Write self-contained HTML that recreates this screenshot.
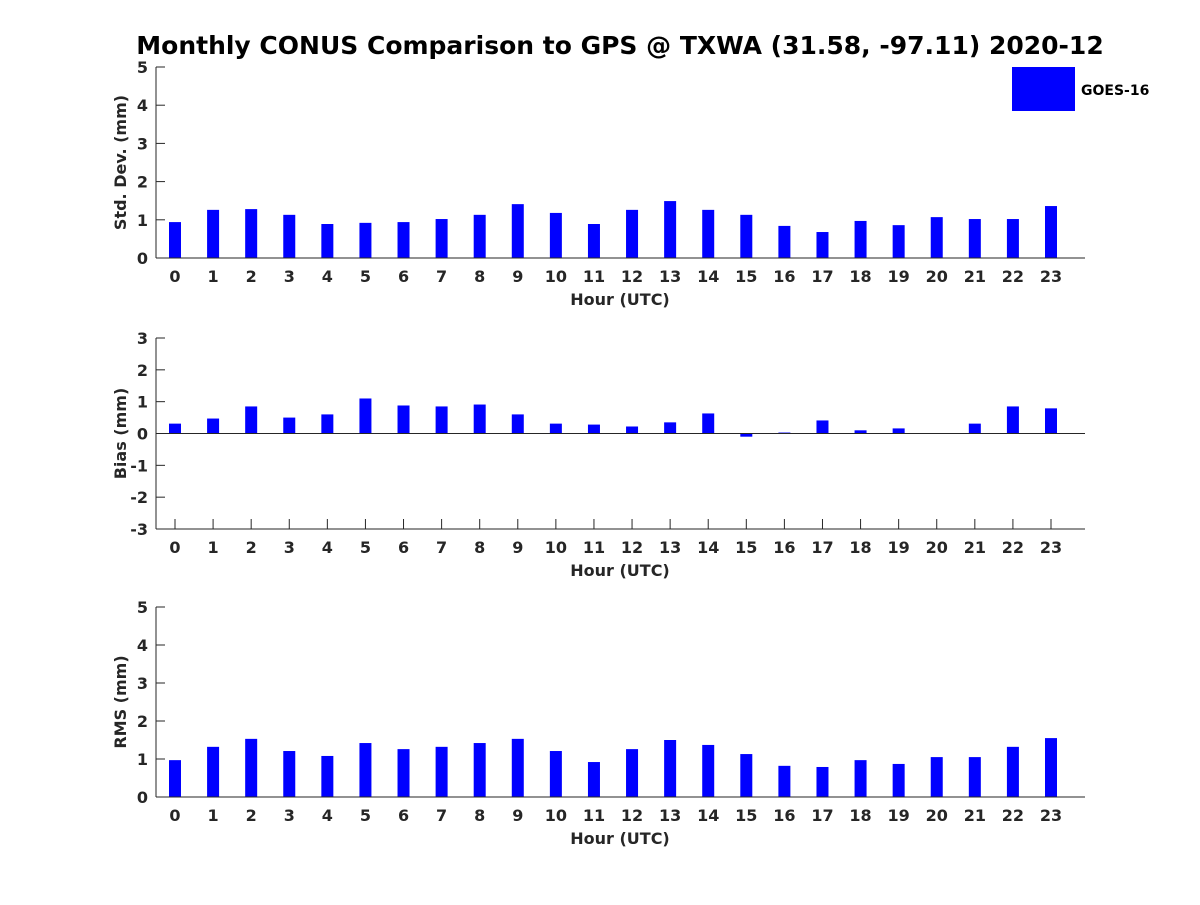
<!DOCTYPE html>
<html><head><meta charset="utf-8"><style>
body{margin:0;background:#fff}
svg text{font-family:"DejaVu Sans","Liberation Sans",sans-serif;font-weight:bold;fill:#262626}
</style></head><body>
<svg id="chart" width="1200" height="900" xmlns="http://www.w3.org/2000/svg">
<rect width="1200" height="900" fill="#fff"/>
<text x="620" y="54" text-anchor="middle" font-size="25" style="fill:#000">Monthly CONUS Comparison to GPS @ TXWA (31.58, -97.11) 2020-12</text>
<rect x="1012" y="67" width="63" height="44" fill="#0000ff"/>
<text x="1081" y="95" font-size="14" style="fill:#000">GOES-16</text>
</svg>
<script>
const hours=[0,1,2,3,4,5,6,7,8,9,10,11,12,13,14,15,16,17,18,19,20,21,22,23];
const stdValues=[0.94,1.26,1.28,1.13,0.89,0.92,0.94,1.02,1.13,1.41,1.18,0.89,1.26,1.49,1.26,1.13,0.84,0.68,0.97,0.86,1.07,1.02,1.02,1.36];
const biasValues=[0.31,0.47,0.85,0.5,0.6,1.1,0.88,0.85,0.91,0.6,0.31,0.28,0.22,0.35,0.63,-0.1,0.03,0.41,0.1,0.16,0,0.31,0.85,0.79];
const rmsValues=[0.97,1.32,1.53,1.21,1.08,1.42,1.26,1.32,1.42,1.53,1.21,0.92,1.26,1.5,1.37,1.13,0.82,0.79,0.97,0.87,1.05,1.05,1.32,1.55];
const stdTicks=[0,1,2,3,4,5];
const biasTicks=[-3,-2,-1,0,1,2,3];
const rmsTicks=[0,1,2,3,4,5];
const NS='http://www.w3.org/2000/svg';
const svg=document.getElementById('chart');
function mk(tag,attrs,parent){const e=document.createElementNS(NS,tag);for(const k in attrs)e.setAttribute(k,attrs[k]);(parent||svg).appendChild(e);return e;}
function panel(name,vals,ticks,top,bottom,ylabel){
  const g=mk('g',{});
  
  
  const x0=156,x1=1085,ymin=ticks[0],ymax=ticks[ticks.length-1];
  const xs=h=>175+h*(1051-175)/23;
  const ys=v=>bottom-(v-ymin)*(bottom-top)/(ymax-ymin);
  ticks.forEach(t=>{
    const y=ys(t);
    mk('line',{x1:x0,y1:y,x2:x0+9,y2:y,stroke:'#262626'},g);
    const tx=mk('text',{x:x0-8,y:y+6,'text-anchor':'end','font-size':16},g);tx.textContent=t;
    
    
  });
  hours.forEach(h=>{
    const x=xs(h);
    mk('line',{x1:x,y1:bottom,x2:x,y2:bottom-10,stroke:'#262626'},g);
    const tx=mk('text',{x:x,y:bottom+24,'text-anchor':'middle','font-size':16},g);tx.textContent=h;
    
    
  });
  vals.forEach((v,i)=>{
    const a=ys(0),b=ys(v);
    const r=mk('rect',{x:xs(hours[i])-6,y:Math.min(a,b),width:12,height:Math.max(Math.abs(a-b),0.01),fill:'#0000ff'},g);
    
    
  });
  mk('line',{x1:x0,y1:top,x2:x0,y2:bottom,stroke:'#262626','stroke-width':1},g);
  mk('line',{x1:x0,y1:bottom,x2:x1,y2:bottom,stroke:'#262626','stroke-width':1},g);
  if(ymin<0) mk('line',{x1:x0,y1:ys(0),x2:x1,y2:ys(0),stroke:'#262626','stroke-width':1},g);
  const xl=mk('text',{x:620,y:bottom+47,'text-anchor':'middle','font-size':16},g);xl.textContent='Hour (UTC)';
  
  
  const cy=(top+bottom)/2;
  const yl=mk('text',{x:126,y:cy,'text-anchor':'middle','font-size':16,transform:'rotate(-90 126 '+cy+')'},g);yl.textContent=ylabel;
  
  
}
panel('std-dev',stdValues,stdTicks,67,258,'Std. Dev. (mm)');
panel('bias',biasValues,biasTicks,338,529,'Bias (mm)');
panel('rms',rmsValues,rmsTicks,607,797,'RMS (mm)');
</script>
</body></html>
